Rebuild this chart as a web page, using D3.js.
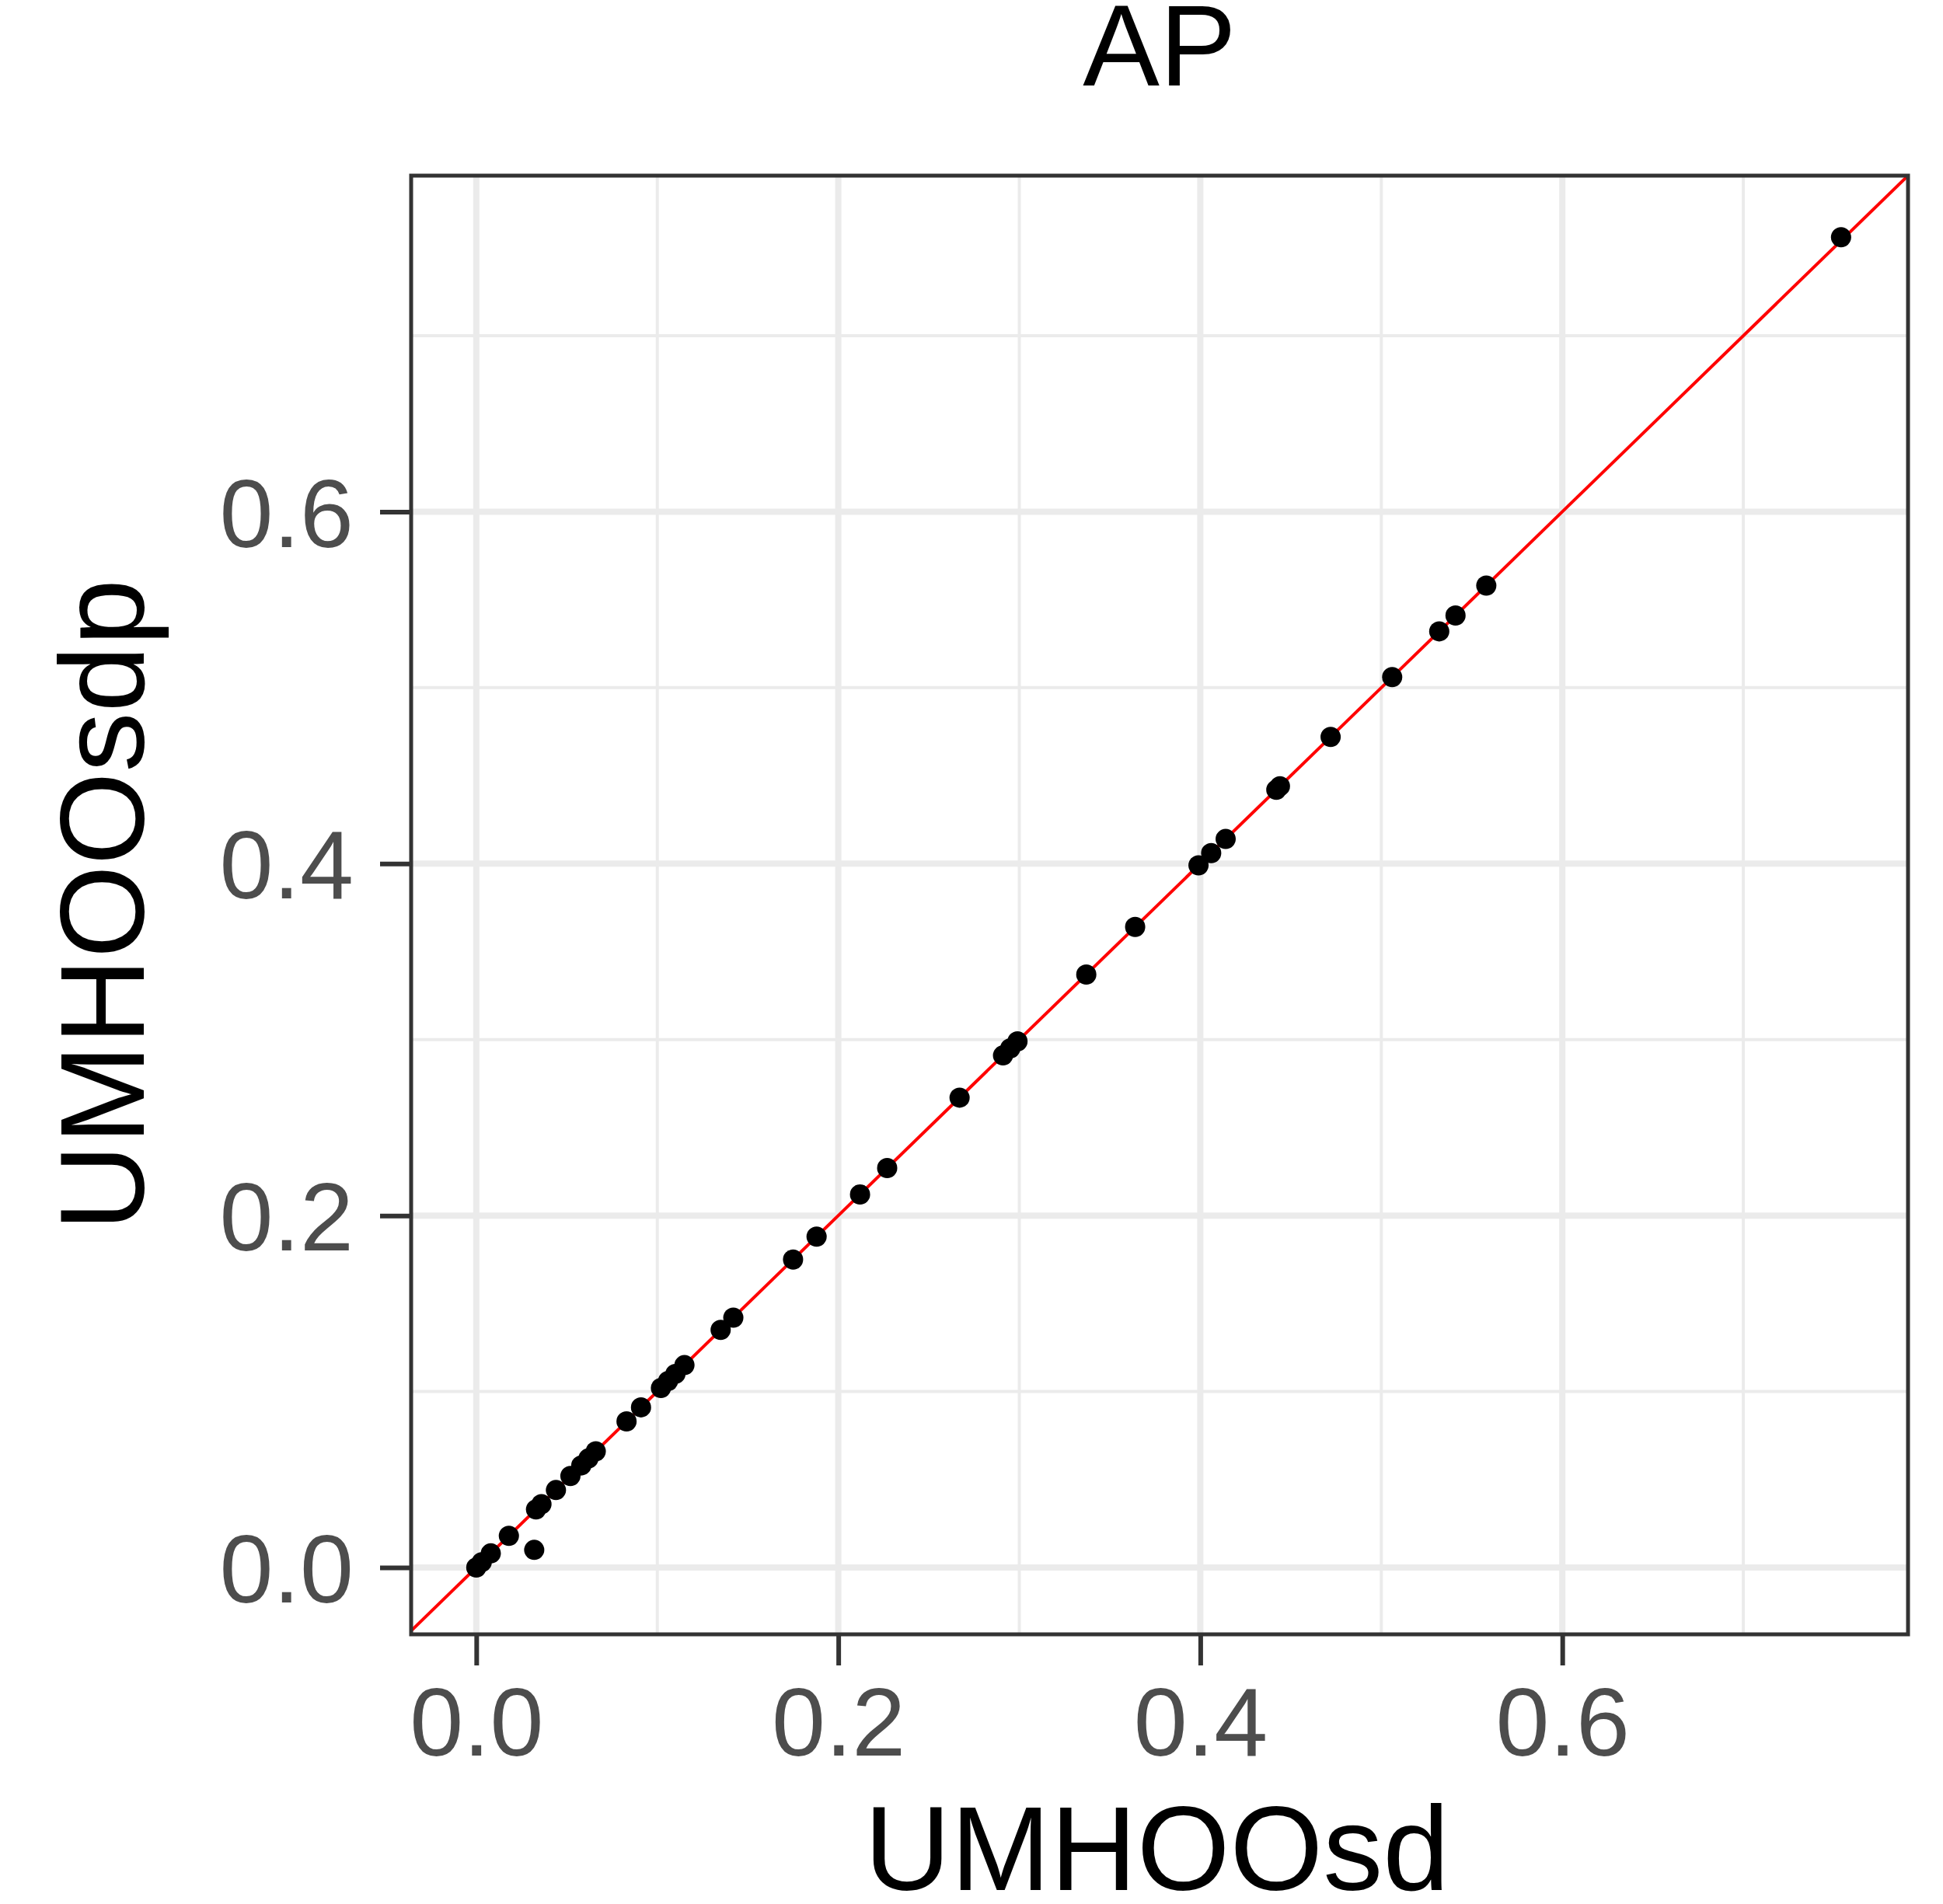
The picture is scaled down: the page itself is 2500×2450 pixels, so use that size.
<!DOCTYPE html>
<html><head><meta charset="utf-8">
<script src="https://cdn.jsdelivr.net/npm/d3@7"></script>
<style>body{margin:0;background:#fff}</style>
</head><body><div id="chart"></div>
<script>
// values (UMHOOsd vs UMHOOsdp)
var xVals = [0.0, 0.003, 0.008, 0.018, 0.032, 0.033, 0.036, 0.044, 0.052, 0.058, 0.062, 0.066,
  0.083, 0.091, 0.102, 0.106, 0.110, 0.115, 0.135, 0.142, 0.175, 0.188, 0.212, 0.227, 0.267,
  0.291, 0.295, 0.299, 0.337, 0.364, 0.399, 0.406, 0.414, 0.442, 0.444, 0.472, 0.506, 0.532,
  0.541, 0.558, 0.754];
var yVals = [0.0, 0.003, 0.008, 0.018, 0.010, 0.033, 0.036, 0.044, 0.052, 0.058, 0.062, 0.066,
  0.083, 0.091, 0.102, 0.106, 0.110, 0.115, 0.135, 0.142, 0.175, 0.188, 0.212, 0.227, 0.267,
  0.291, 0.295, 0.299, 0.337, 0.364, 0.399, 0.406, 0.414, 0.442, 0.444, 0.472, 0.506, 0.532,
  0.541, 0.558, 0.756];
var majorTicks = [0, 0.2, 0.4, 0.6];
var minorTicks = [0.1, 0.3, 0.5, 0.7];

var svgWidth = 2500, svgHeight = 2450;
var panel = {left: 529, right: 2455, top: 226, bottom: 2103};

var svg = d3.select("#chart").append("svg")
  .attr("width", svgWidth).attr("height", svgHeight)
  .style("font-family", "Liberation Sans, Arial, sans-serif");

var x = d3.scaleLinear().domain([-0.036, 0.791]).range([panel.left, panel.right]);
var y = d3.scaleLinear().domain([-0.038, 0.791]).range([panel.bottom, panel.top]);

var grid = svg.append("g");
minorTicks.forEach(function(t) {
  grid.append("line").attr("x1", x(t)).attr("x2", x(t)).attr("y1", panel.top).attr("y2", panel.bottom)
    .attr("stroke", "#EBEBEB").attr("stroke-width", 4);
  grid.append("line").attr("y1", y(t)).attr("y2", y(t)).attr("x1", panel.left).attr("x2", panel.right)
    .attr("stroke", "#EBEBEB").attr("stroke-width", 4);
});
majorTicks.forEach(function(t) {
  grid.append("line").attr("x1", x(t)).attr("x2", x(t)).attr("y1", panel.top).attr("y2", panel.bottom)
    .attr("stroke", "#EBEBEB").attr("stroke-width", 8);
  grid.append("line").attr("y1", y(t)).attr("y2", y(t)).attr("x1", panel.left).attr("x2", panel.right)
    .attr("stroke", "#EBEBEB").attr("stroke-width", 8);
});

// identity line, clipped to panel
svg.append("clipPath").attr("id", "clip").append("rect")
  .attr("x", panel.left).attr("y", panel.top)
  .attr("width", panel.right - panel.left).attr("height", panel.bottom - panel.top);
svg.append("line").attr("clip-path", "url(#clip)")
  .attr("x1", x(-0.05)).attr("y1", y(-0.05)).attr("x2", x(0.8)).attr("y2", y(0.8))
  .attr("stroke", "red").attr("stroke-width", 4);

svg.append("g").selectAll("circle").data(xVals).enter().append("circle")
  .attr("cx", function(d) { return x(d); })
  .attr("cy", function(d, i) { return y(yVals[i]); })
  .attr("r", 13).attr("fill", "black");

svg.append("rect").attr("x", panel.left).attr("y", panel.top)
  .attr("width", panel.right - panel.left).attr("height", panel.bottom - panel.top)
  .attr("fill", "none").attr("stroke", "#333333").attr("stroke-width", 5);

// axes
var xAxis = d3.axisBottom(x).tickValues(majorTicks).tickFormat(d3.format(".1f")).tickSize(40).tickPadding(28);
var yAxis = d3.axisLeft(y).tickValues(majorTicks).tickFormat(d3.format(".1f")).tickSize(40).tickPadding(34);
var gx = svg.append("g").attr("transform", `translate(0, ${panel.bottom})`).call(xAxis);
var gy = svg.append("g").attr("transform", `translate(${panel.left}, 0)`).call(yAxis);
[gx, gy].forEach(function(g) {
  g.select(".domain").remove();
  g.selectAll(".tick line").attr("stroke", "#333333").attr("stroke-width", 6);
  g.selectAll(".tick text").attr("fill", "#4D4D4D").style("font-size", "124px")
    .style("font-family", "Liberation Sans, Arial, sans-serif");
});
gy.selectAll(".tick text").attr("dy", "0.36em");

svg.append("text").attr("x", 1492).attr("y", 110).attr("text-anchor", "middle")
  .style("font-size", "148px").text("AP");
svg.append("text").attr("x", x(0.376)).attr("y", 2432).attr("text-anchor", "middle")
  .style("font-size", "154px").text("UMHOOsd");
svg.append("text").attr("transform", `translate(185, ${(panel.top + panel.bottom) / 2}) rotate(-90)`)
  .attr("text-anchor", "middle").style("font-size", "154px").text("UMHOOsdp");
</script></body></html>
